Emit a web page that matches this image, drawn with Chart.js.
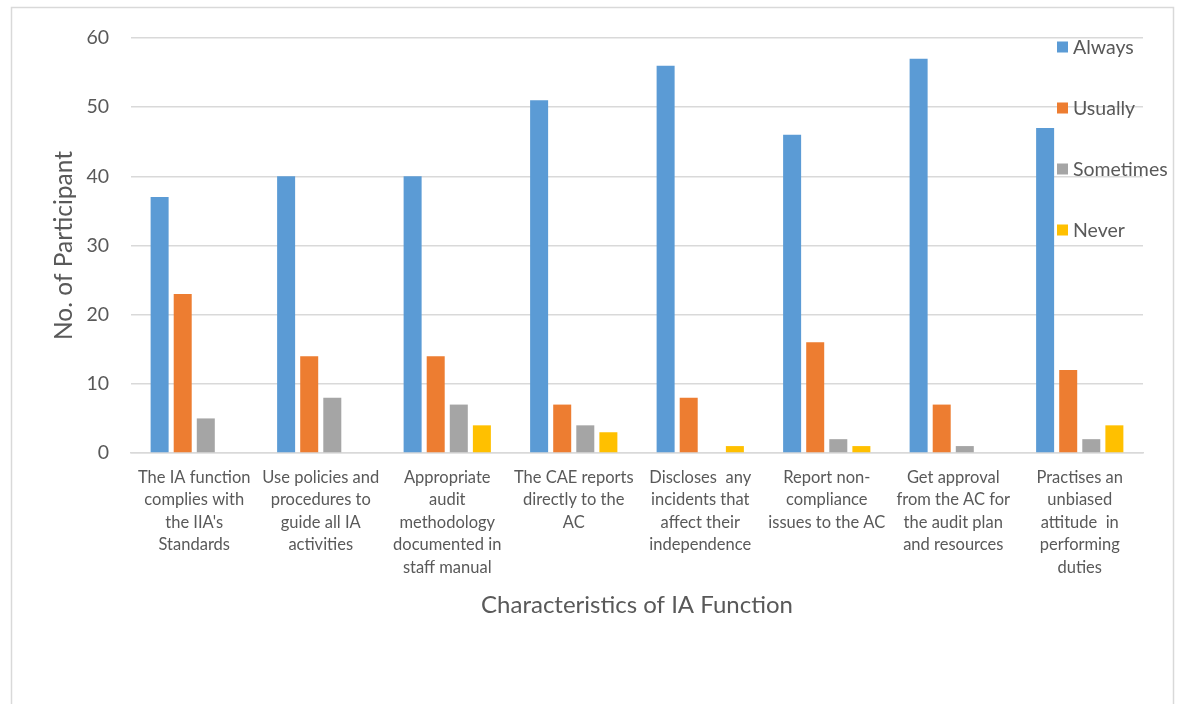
<!DOCTYPE html>
<html>
<head>
<meta charset="utf-8">
<script src="https://cdn.jsdelivr.net/npm/chart.js@4.4.1/dist/chart.umd.min.js"></script>
<style>
  html, body { margin: 0; padding: 0; background: #fff; }
  #wrap { position: relative; width: 1182px; height: 704px; }
</style>
</head>
<body>
<div id="wrap"><canvas id="chart" width="1182" height="704"></canvas></div>
<script>
// Characteristics of the internal audit function (category labels, wrapped)
const categories = [
  ["The IA function", "complies with", "the IIA's", "Standards"],
  ["Use policies and", "procedures to", "guide all IA", "activities"],
  ["Appropriate", "audit", "methodology", "documented in", "staff manual"],
  ["The CAE reports", "directly to the", "AC"],
  ["Discloses  any", "incidents that", "affect their", "independence"],
  ["Report non-", "compliance", "issues to the AC"],
  ["Get approval", "from the AC for", "the audit plan", "and resources"],
  ["Practises an", "unbiased", "attitude  in", "performing", "duties"]
];

// Number of participants per response
const always    = [37, 40, 40, 51, 56, 46, 57, 47];
const usually   = [23, 14, 14, 7, 8, 16, 7, 12];
const sometimes = [5, 8, 7, 4, 0, 2, 1, 2];
const never     = [0, 0, 4, 3, 1, 1, 0, 4];

const yTicks = [0, 10, 20, 30, 40, 50, 60];

const FONT = "Lato, 'Open Sans', sans-serif";
const TEXT = "#595959";
const GRID = "#d9d9d9";

const seriesDefs = [
  { label: "Always",    data: always,    color: "#5b9bd5" },
  { label: "Usually",   data: usually,   color: "#ed7d31" },
  { label: "Sometimes", data: sometimes, color: "#a5a5a5" },
  { label: "Never",     data: never,     color: "#ffc000" }
];

// Outer frame around the chart
const framePlugin = {
  id: "frame",
  beforeDraw(chart) {
    const ctx = chart.ctx;
    ctx.save();
    ctx.fillStyle = "#fff";
    ctx.fillRect(0, 0, chart.width, chart.height);
    ctx.strokeStyle = "#d9d9d9";
    ctx.lineWidth = 1.5;
    ctx.strokeRect(11.5, 7.5, 1162, 720);
    ctx.restore();
  }
};

// Legend drawn inside the plot on the right, items spread vertically
const sideLegend = {
  id: "sideLegend",
  afterDraw(chart) {
    const ctx = chart.ctx;
    ctx.save();
    ctx.font = "19.5px " + FONT;
    ctx.textBaseline = "middle";
    ctx.textAlign = "left";
    chart.data.datasets.forEach((ds, i) => {
      const y = 47 + i * 61;
      ctx.fillStyle = ds.backgroundColor;
      ctx.fillRect(1057, y - 5.5, 11, 11);
      ctx.fillStyle = TEXT;
      ctx.fillText(ds.label, 1073, y + 1);
    });
    ctx.restore();
  }
};

new Chart(document.getElementById("chart"), {
  type: "bar",
  data: {
    labels: categories,
    datasets: seriesDefs.map(s => ({
      label: s.label,
      data: s.data,
      backgroundColor: s.color,
      borderWidth: 0,
      categoryPercentage: 0.73,
      barPercentage: 0.78
    }))
  },
  options: {
    responsive: false,
    animation: false,
    events: [],
    layout: { padding: { left: 40, right: 39, top: 38, bottom: 80 } },
    plugins: { legend: { display: false }, tooltip: { enabled: false } },
    scales: {
      x: {
        grid: { display: false, drawTicks: false },
        border: { display: true, color: GRID, width: 1.5 },
        ticks: {
          color: TEXT,
          font: { family: FONT, size: 16.5, lineHeight: 1.37 },
          padding: 13,
          autoSkip: false,
          maxRotation: 0,
          minRotation: 0
        },
        title: {
          display: true,
          text: "Characteristics of IA Function",
          color: TEXT,
          font: { family: FONT, size: 24 },
          padding: { top: 4, bottom: 4 }
        },
        afterFit(scale) { scale.height = 704 - 80 - 453; }
      },
      y: {
        min: 0,
        max: 60,
        afterBuildTicks(scale) { scale.ticks = yTicks.map(v => ({ value: v })); },
        grid: { color: GRID, lineWidth: 1.5, drawTicks: false },
        border: { display: false },
        ticks: {
          color: TEXT,
          font: { family: FONT, size: 19.5 },
          padding: 22
        },
        title: {
          display: true,
          text: "No. of Participant",
          color: TEXT,
          font: { family: FONT, size: 24.5 },
          padding: { top: 9, bottom: 9 }
        },
        afterFit(scale) { scale.width = 91; }
      }
    }
  },
  plugins: [framePlugin, sideLegend]
});
</script>
</body>
</html>
